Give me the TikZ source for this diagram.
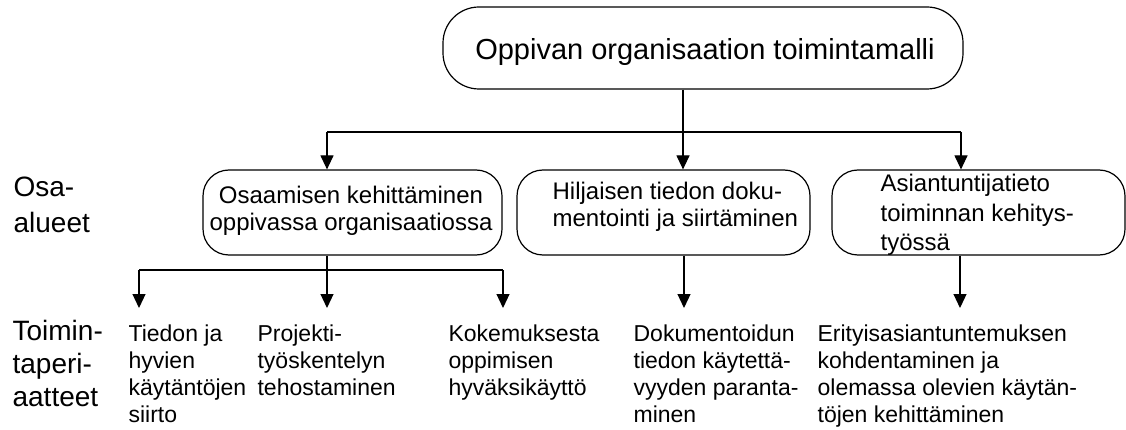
\documentclass[tikz,border=0pt]{standalone}
\usepackage{fontspec}
\setmainfont{Liberation Sans}
\usetikzlibrary{arrows.meta}
\begin{document}
\begin{tikzpicture}[x=1pt, y=-1pt, line width=1.2pt,
  box/.style={draw, inner sep=0pt},
  arr/.style={-{Triangle[width=13pt,length=14pt]}},
  txt/.style={font=\fontsize{24}{27}\selectfont, align=left, anchor=base west, inner sep=0pt},
  ptxt/.style={txt, font=\fontsize{23}{27}\selectfont},
  head/.style={align=left, anchor=base west, inner sep=0pt}]
\useasboundingbox (0,0) rectangle (1126,430);

% boxes
\node[box, rounded corners=36pt, minimum width=520pt, minimum height=82pt] (top) at (703,48) {};
\node[box, rounded corners=26pt, minimum width=299pt, minimum height=85pt] (b2) at (352.5,212.5) {};
\node[box, rounded corners=26pt, minimum width=293pt, minimum height=85pt] (b3) at (663.5,212.5) {};
\node[box, rounded corners=26pt, minimum width=293pt, minimum height=85pt] (b4) at (978.5,212.5) {};

% box texts (multi-line nodes are placed by the baseline of their last line)
\node[font=\fontsize{29}{34}\selectfont, anchor=base, inner sep=0pt] (ttop) at (705,60) {Oppivan organisaation toimintamalli};
\node[txt, align=center, anchor=base] (t2) at (351,231) {Osaamisen kehittäminen\\oppivassa organisaatiossa};
\node[txt] (t3) at (552,227) {Hiljaisen tiedon doku-\\mentointi ja siirtäminen};
\node[txt, font=\fontsize{24}{29.5}\selectfont] (t4) at (880,251) {Asiantuntijatieto\\toiminnan kehitys-\\työssä};

% row headings
\node[head, font=\fontsize{28}{36}\selectfont] (h1) at (13,233) {Osa-\\alueet};
\node[head, font=\fontsize{28}{33}\selectfont] (h2) at (12,406) {Toimin-\\taperi-\\aatteet};

% principles
\node[ptxt] (p1) at (128,422) {Tiedon ja\\hyvien\\käytäntöjen\\siirto};
\node[ptxt] (p2) at (257,395) {Projekti-\\työskentelyn\\tehostaminen};
\node[ptxt] (p3) at (448,395) {Kokemuksesta\\oppimisen\\hyväksikäyttö};
\node[ptxt] (p4) at (633,422) {Dokumentoidun\\tiedon käytettä-\\vyyden paranta-\\minen};
\node[ptxt] (p5) at (817,422) {Erityisasiantuntemuksen\\kohdentaminen ja\\olemassa olevien käytän-\\töjen kehittäminen};

% connectors from the top box
\coordinate (j0) at (683,132);
\coordinate (jl) at (327,132);
\coordinate (jr) at (961,132);
\draw (top.south -| j0) -- (j0);
\draw (jl) -- (jr);
\draw[arr] (jl) -- (jl |- b2.north);
\draw[arr] (j0) -- (j0 |- b3.north);
\draw[arr] (jr) -- (jr |- b4.north);

% connectors from the first area
\coordinate (k0) at (327,270);
\coordinate (kl) at (139,270);
\coordinate (kr) at (503,270);
\coordinate (tipy) at (0,308);
\draw (b2.south -| k0) -- (k0);
\draw (kl) -- (kr);
\draw[arr] (kl) -- (kl |- tipy);
\draw[arr] (k0) -- (k0 |- tipy);
\draw[arr] (kr) -- (kr |- tipy);

% connectors from the other areas
\coordinate (m3) at (684,0);
\coordinate (m4) at (960,0);
\draw[arr] (b3.south -| m3) -- (m3 |- tipy);
\draw[arr] (b4.south -| m4) -- (m4 |- tipy);
\end{tikzpicture}
\end{document}
